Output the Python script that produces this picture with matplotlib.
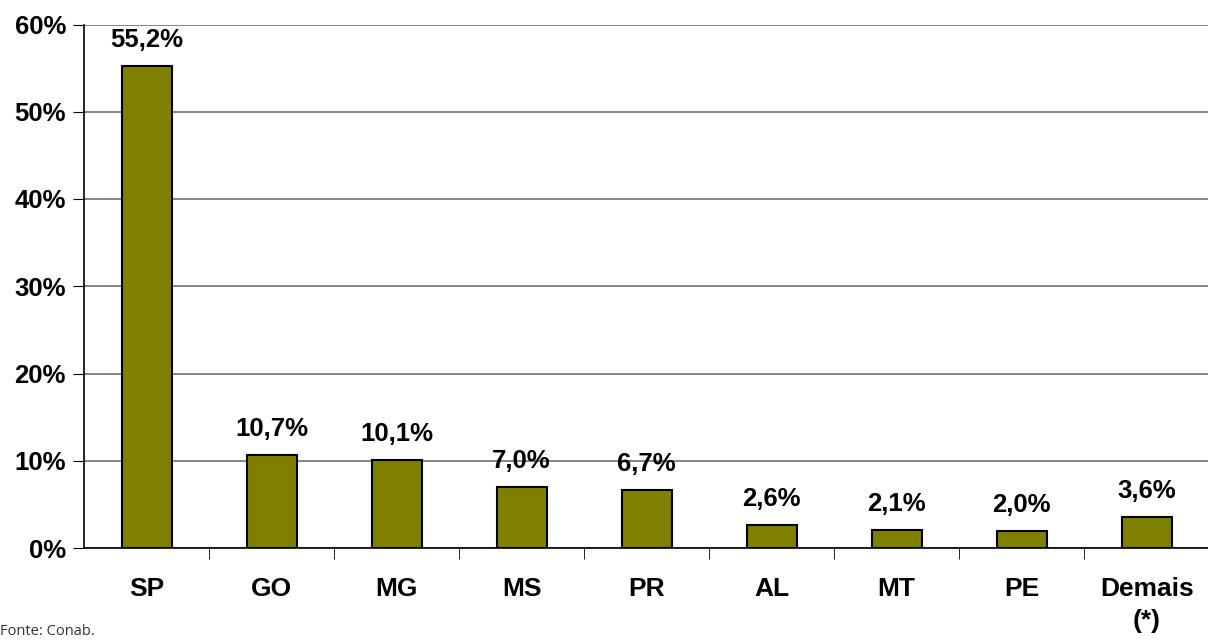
import matplotlib
matplotlib.use('Agg')
import matplotlib.pyplot as plt

categorias = ['SP', 'GO', 'MG', 'MS', 'PR', 'AL', 'MT', 'PE', 'Demais\n(*)']
valores = [55.2, 10.7, 10.1, 7.0, 6.7, 2.6, 2.1, 2.0, 3.6]
rotulos = ['55,2%', '10,7%', '10,1%', '7,0%', '6,7%', '2,6%', '2,1%', '2,0%', '3,6%']
yticks = [0, 10, 20, 30, 40, 50, 60]

plt.rcParams['font.family'] = ['Liberation Sans', 'DejaVu Sans']

fig = plt.figure(figsize=(12.08, 6.42), dpi=100)
ax = fig.add_axes([84 / 1208, 1 - 548 / 642, 1 - 84 / 1208 + 0.001, (548 - 24.5) / 642])

x = list(range(len(categorias)))
ax.bar(x, valores, width=0.4, color='#808000', edgecolor='black', linewidth=1.5, zorder=3)

for xi, v, r in zip(x, valores, rotulos):
    ax.annotate(r, (xi, v), xytext=(0, 10), textcoords='offset points',
                ha='center', va='bottom', fontsize=18.5, fontweight='bold')

ax.set_xlim(-0.5, len(categorias) - 0.5)
ax.set_ylim(0, 60)
ax.set_yticks(yticks)
ax.set_yticklabels([f'{t}%' for t in yticks], fontsize=18.5, fontweight='bold')
ax.grid(axis='y', color='#707070', linewidth=1.2, zorder=0)

ax.set_xticks(x)
ax.set_xticklabels(categorias, fontsize=19, fontweight='bold', linespacing=1.42)
ax.tick_params(axis='x', which='major', length=0, pad=21)
ax.set_xticks([i + 0.5 for i in range(len(categorias) - 1)], minor=True)
ax.tick_params(axis='x', which='minor', length=8, direction='out', color='black')
ax.tick_params(axis='y', length=8, direction='out', pad=5)

for s in ['top', 'right']:
    ax.spines[s].set_visible(False)
ax.spines['left'].set_linewidth(1.2)
ax.spines['bottom'].set_linewidth(1.2)

fig.text(0.0, 0.004, 'Fonte: Conab.', fontsize=10.5, family=['Open Sans', 'DejaVu Sans'],
         ha='left', va='bottom', color='#333333')

fig.savefig('out.png', dpi=100)
